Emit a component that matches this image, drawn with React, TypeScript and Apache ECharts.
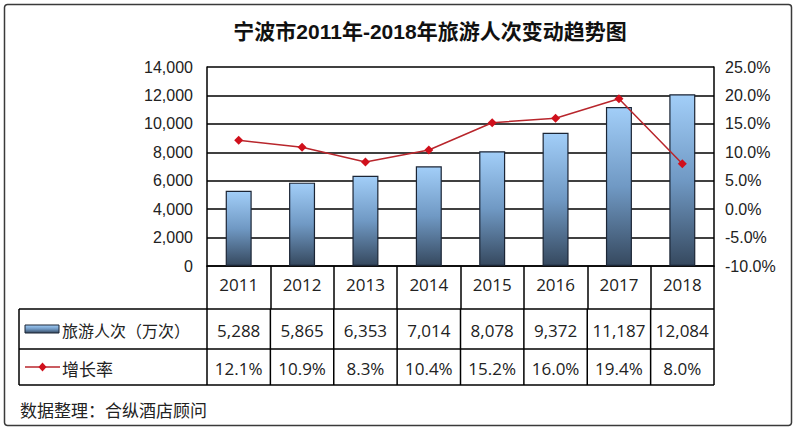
import React, { useEffect, useRef } from 'react';
import * as echarts from 'echarts';

const titleText = '宁波市2011年-2018年旅游人次变动趋势图';
const years = ['2011', '2012', '2013', '2014', '2015', '2016', '2017', '2018'];
const visitors = [5288, 5865, 6353, 7014, 8078, 9372, 11187, 12084];
const growth = [12.1, 10.9, 8.3, 10.4, 15.2, 16.0, 19.4, 8.0];
const leftAxis = { min: 0, max: 14000, interval: 2000 };
const rightAxis = { min: -10, max: 25, interval: 5 };
const seriesNames = ['旅游人次（万次）', '增长率'];
const sourceText = '数据整理：合纵酒店顾问';

const LATIN = "'Liberation Sans', Arial, 'Noto Sans CJK SC', sans-serif";
const TABLE = "'Open Sans', 'Noto Sans CJK SC', sans-serif";
const CJK = "'Noto Sans CJK SC', sans-serif";
const LW = 1.5;

const barGradient = () =>
  new echarts.graphic.LinearGradient(0, 0, 0, 1, [
    { offset: 0, color: '#a2cef8' },
    { offset: 0.5, color: '#7099c4' },
    { offset: 1, color: '#36495f' },
  ]);

export default function App() {
  const ref = useRef<HTMLDivElement>(null);

  useEffect(() => {
    if (!ref.current) return;
    const chart = echarts.init(ref.current, null, { renderer: 'svg' });
    const option: any = {
      animation: false,
      backgroundColor: '#ffffff',
      grid: { left: 207, right: 86, top: 67, bottom: 169 },
      xAxis: {
        type: 'category',
        data: years,
        axisLine: { show: true, lineStyle: { color: '#000', width: LW } },
        axisTick: { show: true, length: 43, interval: 0, lineStyle: { color: '#000', width: LW } },
        axisLabel: { fontSize: 17, fontFamily: TABLE, color: '#222', margin: 10, interval: 0 },
        splitLine: { show: false },
      },
      yAxis: [
        {
          type: 'value',
          min: leftAxis.min,
          max: leftAxis.max,
          interval: leftAxis.interval,
          axisLine: { show: true, lineStyle: { color: '#000', width: LW } },
          axisTick: { show: false },
          axisLabel: {
            fontSize: 16,
            fontFamily: LATIN,
            color: '#222',
            margin: 14,
            formatter: (v: number) => v.toLocaleString('en-US'),
          },
          splitLine: { show: true, lineStyle: { color: '#000', width: LW } },
        },
        {
          type: 'value',
          min: rightAxis.min,
          max: rightAxis.max,
          interval: rightAxis.interval,
          position: 'right',
          axisLine: { show: true, lineStyle: { color: '#000', width: LW } },
          axisTick: { show: false },
          axisLabel: {
            fontSize: 16,
            fontFamily: LATIN,
            color: '#222',
            margin: 11,
            formatter: (v: number) => v.toFixed(1) + '%',
          },
          splitLine: { show: false },
        },
      ],
      series: [
        {
          name: seriesNames[0],
          type: 'bar',
          data: visitors,
          barWidth: 26,
          itemStyle: { color: barGradient(), borderColor: '#1b2535', borderWidth: 1.2 },
          z: 2,
        },
        {
          name: seriesNames[1],
          type: 'line',
          yAxisIndex: 1,
          data: growth,
          symbol: 'diamond',
          symbolSize: 9,
          lineStyle: { color: '#b8262c', width: 1.5 },
          itemStyle: { color: '#d0101c' },
          z: 3,
        },
      ],
    };
    chart.setOption(option);

    const cx = years.map((y) => chart.convertToPixel({ xAxisIndex: 0 }, y) as number);
    const colW = cx[1] - cx[0];
    const xLeftPlot = cx[0] - colW / 2;
    const xRightPlot = cx[cx.length - 1] + colW / 2;
    const y0 = chart.convertToPixel({ yAxisIndex: 0 }, 0) as number;
    const rowYear = y0 + 43;
    const rowVal = rowYear + 40;
    const rowRate = rowVal + 36;
    const tableLeft = 19;

    const lineStyle = { stroke: '#000', lineWidth: LW };
    const g: any[] = [];
    g.push({
      type: 'rect',
      shape: { x: 4.5, y: 4.5, width: 787, height: 421, r: 3 },
      style: { fill: 'none', stroke: '#3a3a3a', lineWidth: 1.5 },
      z: 0,
    });
    g.push({
      type: 'text',
      x: 430,
      y: 31,
      style: {
        text: titleText,
        fontSize: 21,
        fontWeight: 'bold',
        fontFamily: LATIN,
        fill: '#111',
        align: 'center',
        verticalAlign: 'middle',
      },
    });
    [rowYear, rowVal, rowRate].forEach((yy) =>
      g.push({ type: 'line', shape: { x1: tableLeft, y1: yy, x2: xRightPlot, y2: yy }, style: lineStyle })
    );
    g.push({ type: 'line', shape: { x1: tableLeft, y1: rowYear, x2: tableLeft, y2: rowRate }, style: lineStyle });
    for (let i = 0; i <= years.length; i++) {
      const xx = xLeftPlot + i * colW;
      g.push({ type: 'line', shape: { x1: xx, y1: rowYear, x2: xx, y2: rowRate }, style: lineStyle });
    }
    cx.forEach((x, i) => {
      g.push({
        type: 'text',
        x,
        y: (rowYear + rowVal) / 2 + 1,
        style: {
          text: visitors[i].toLocaleString('en-US'),
          fontSize: 17,
          fontFamily: TABLE,
          fill: '#222',
          align: 'center',
          verticalAlign: 'middle',
        },
      });
      g.push({
        type: 'text',
        x,
        y: (rowVal + rowRate) / 2 + 1,
        style: {
          text: growth[i].toFixed(1) + '%',
          fontSize: 17,
          fontFamily: TABLE,
          fill: '#222',
          align: 'center',
          verticalAlign: 'middle',
        },
      });
    });
    const midVal = (rowYear + rowVal) / 2;
    const midRate = (rowVal + rowRate) / 2;
    g.push({
      type: 'rect',
      shape: { x: 25, y: midVal - 4, width: 34, height: 8 },
      style: { fill: barGradient(), stroke: '#1b2535', lineWidth: 1 },
    });
    g.push({
      type: 'text',
      x: 62,
      y: midVal + 1,
      style: { text: seriesNames[0], fontSize: 16, fontFamily: CJK, fill: '#222', verticalAlign: 'middle' },
    });
    g.push({
      type: 'line',
      shape: { x1: 25, y1: midRate, x2: 60, y2: midRate },
      style: { stroke: '#b8262c', lineWidth: 1.5 },
    });
    g.push({
      type: 'polygon',
      shape: { points: [[42.5, midRate - 4.5], [46.5, midRate], [42.5, midRate + 4.5], [38.5, midRate]] },
      style: { fill: '#d0101c' },
    });
    g.push({
      type: 'text',
      x: 62,
      y: midRate + 1,
      style: { text: seriesNames[1], fontSize: 17, fontFamily: CJK, fill: '#222', verticalAlign: 'middle' },
    });
    g.push({
      type: 'text',
      x: 20,
      y: 409,
      style: { text: sourceText, fontSize: 17, fontFamily: CJK, fill: '#222', verticalAlign: 'middle' },
    });
    chart.setOption({ graphic: g });

    return () => chart.dispose();
  }, []);

  return (
    <div
      ref={ref}
      style={{ position: 'fixed', left: 0, top: 0, width: 800, height: 435, background: '#fff' }}
    />
  );
}
